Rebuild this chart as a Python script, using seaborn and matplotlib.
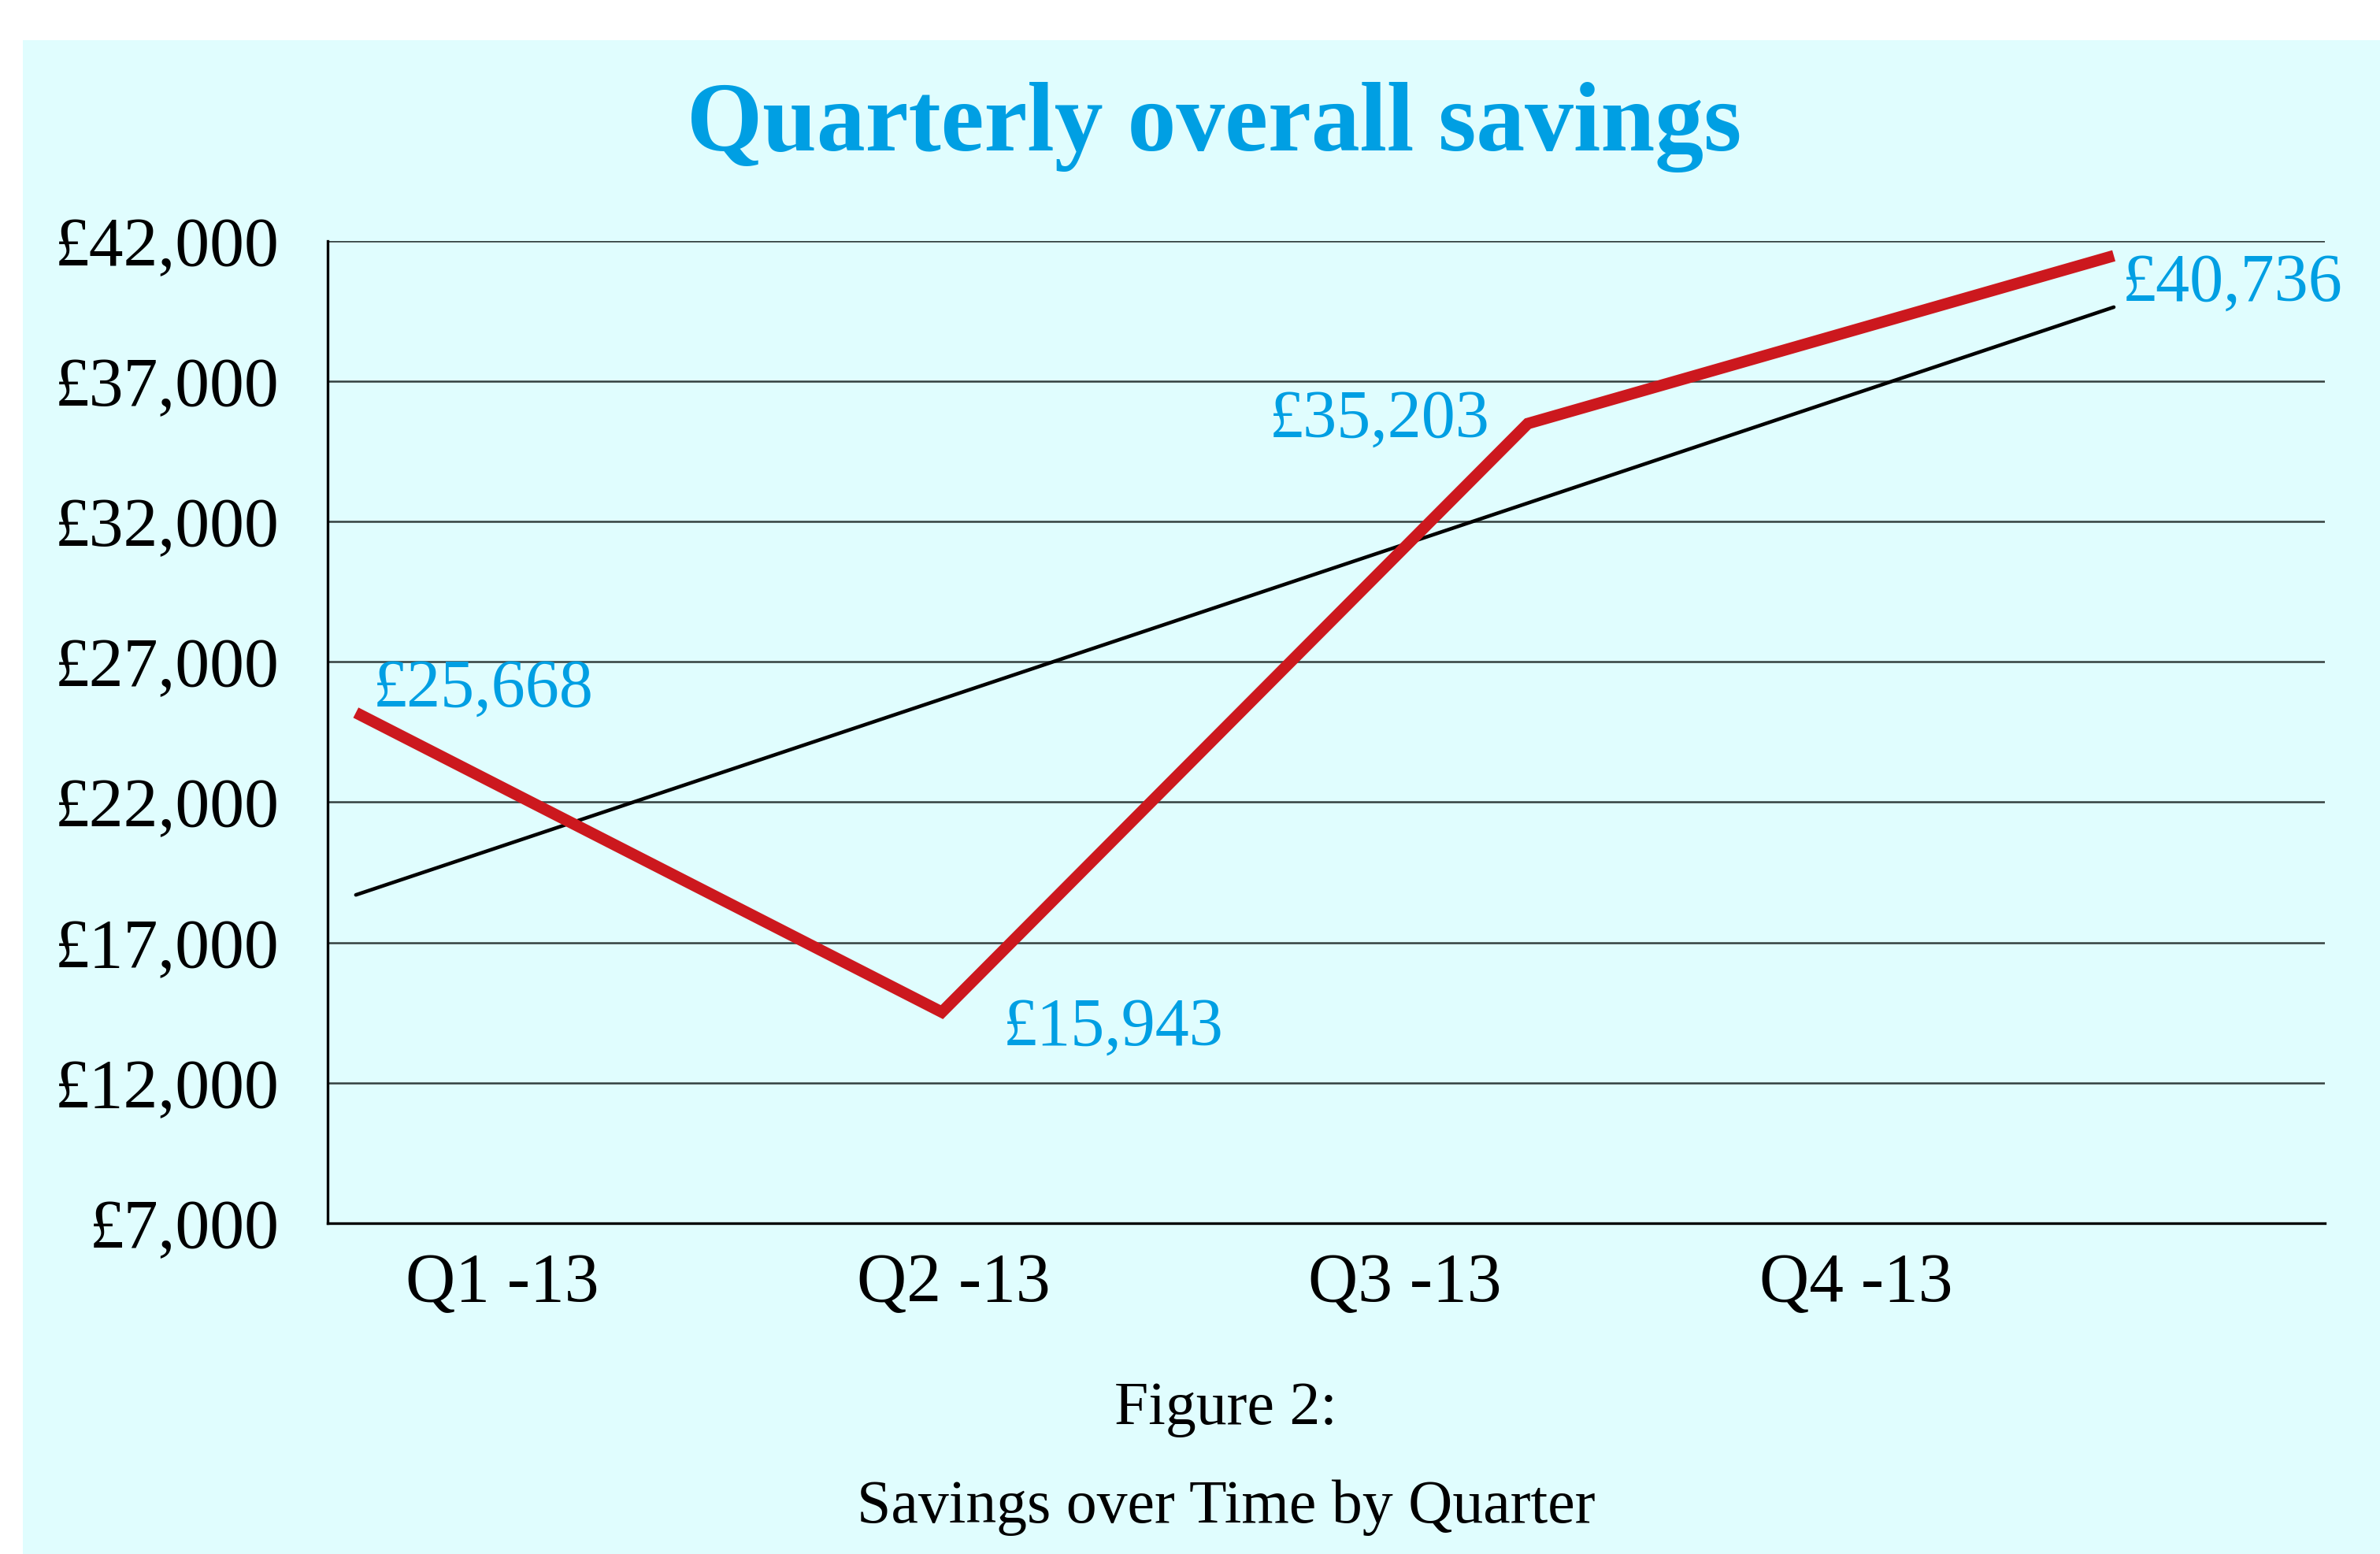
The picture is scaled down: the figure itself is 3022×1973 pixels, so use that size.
import numpy as np
import pandas as pd
import matplotlib.pyplot as plt
from matplotlib.patches import Rectangle
import seaborn as sns

# values (line positions) and the printed labels
quarters = ["Q1 -13", "Q2 -13", "Q3 -13", "Q4 -13"]
savings = [25190, 14520, 35490, 41470]
point_labels = ["£25,668", "£15,943", "£35,203", "£40,736"]
y_ticks = [7000, 12000, 17000, 22000, 27000, 32000, 37000, 42000]

BG = "#E0FDFE"
RED = "#CC181E"
BLUE = "#009FE3"

sns.set_theme(style="whitegrid")
plt.rcParams['font.family'] = ['Liberation Serif', 'DejaVu Serif']
plt.rcParams['axes.unicode_minus'] = False

df = pd.DataFrame({"idx": np.arange(len(quarters)), "savings": savings})

fig = plt.figure(figsize=(30.22, 19.73), dpi=100)
fig.patch.set_facecolor("white")
fig.patches.append(Rectangle((0.0096, 0), 1, 0.974, transform=fig.transFigure,
                             facecolor=BG, edgecolor="none", zorder=-10))

ax = fig.add_axes([0.1377, 0.2129, 0.8391, 0.6321])
ax.set_facecolor(BG)

sns.lineplot(data=df, x="idx", y="savings", ax=ax, color=RED, linewidth=10.5,
             solid_capstyle="butt", solid_joinstyle="miter", zorder=3)
sns.regplot(data=df, x="idx", y="savings", ax=ax, scatter=False, ci=None,
            truncate=True, line_kws={"color": "black", "linewidth": 3.3, "zorder": 2})

# data labels
offsets = [((16, 6), "left"), ((56, -30), "left"), ((-35, -12), "right"), ((8, -41), "left")]
for i, (lab, (off, ha)) in enumerate(zip(point_labels, offsets)):
    ax.annotate(lab, (i, savings[i]), xytext=off, textcoords="offset points",
                ha=ha, va="baseline", color=BLUE, fontsize=62)

ax.set_xlim(-0.048, 3.36)
ax.set_ylim(7000, 42000)
ax.set_yticks(y_ticks)
ax.set_yticklabels([f"£{v:,}" for v in y_ticks])
ax.set_xticks(np.arange(len(quarters)) * 0.77 + 0.25)
ax.set_xticklabels(quarters)
ax.tick_params(axis="y", length=0, pad=44, labelsize=63, colors="black")
ax.tick_params(axis="x", length=0, pad=27, labelsize=63, colors="black")
ax.set_xlabel("")
ax.set_ylabel("")

ax.grid(axis="y", color="#34403F", linewidth=1.8)
ax.grid(axis="x", visible=False)
for side in ["top", "right"]:
    ax.spines[side].set_visible(False)
for side in ["left", "bottom"]:
    ax.spines[side].set_visible(True)
    ax.spines[side].set_color("black")
    ax.spines[side].set_linewidth(2.4)

fig.text(0.51, 0.903, "Quarterly overall savings", ha="center", va="baseline",
         fontsize=89, fontweight="bold", color=BLUE)
fig.text(0.515, 0.0837, "Figure 2:", ha="center", va="baseline", fontsize=56, color="black")
fig.text(0.515, 0.0203, "Savings over Time by Quarter", ha="center", va="baseline",
         fontsize=56, color="black")

fig.savefig("out.png", dpi=100, facecolor=fig.get_facecolor())
